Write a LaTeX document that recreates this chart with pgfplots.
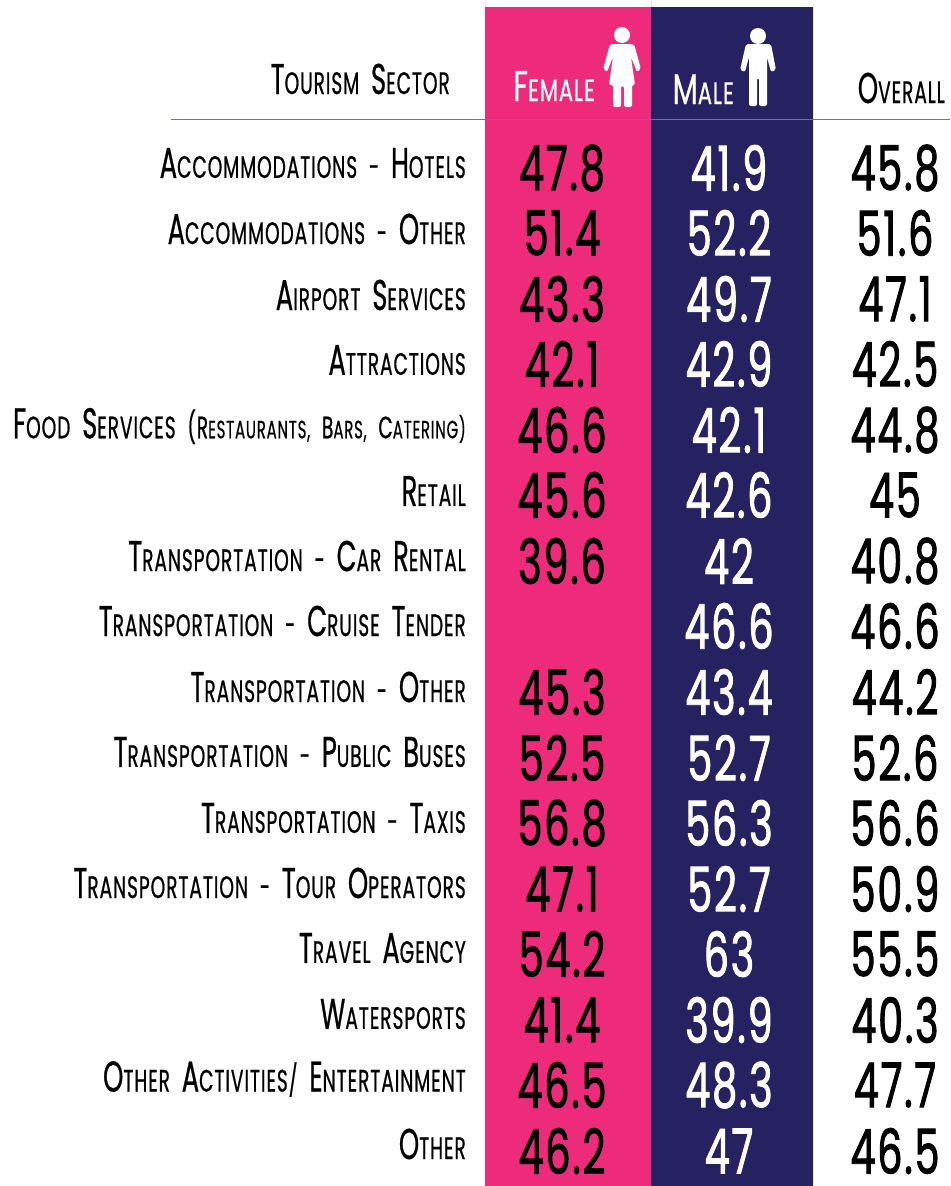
\documentclass[border=0pt]{standalone}
\usepackage{fontspec}
\usepackage{pgfplots}
\usepackage{pgfplotstable}
\pgfplotsset{compat=1.18}
\setmainfont[FakeStretch=0.6,FakeBold=0.6,LetterSpace=3,WordSpace=2]{Poppins}
\newfontfamily\numfont[FakeStretch=0.64,FakeBold=1.4,LetterSpace=3]{Poppins}
\newfontfamily\headfont[FakeStretch=0.68,FakeBold=0.6,LetterSpace=3]{Poppins}

\definecolor{femalepink}{HTML}{EE2A7B}
\definecolor{malenavy}{HTML}{262262}
\definecolor{rulecol}{HTML}{6F6EB8}

% small caps by hand: big initial, rest smaller
\newcommand{\C}[2]{{\fontsize{43}{43}\selectfont #1}{\fontsize{31}{31}\selectfont\MakeUppercase{#2}}}
\newcommand{\D}[2]{{\fontsize{31}{31}\selectfont #1}{\fontsize{25}{25}\selectfont\MakeUppercase{#2}}}
\newcommand{\labelfont}{\fontsize{31}{31}\selectfont}

\pgfplotstableread{
x y v
562 170 47.8
562 235 51.4
562 301 43.3
562 366 42.1
562 432 46.6
562 497 45.6
562 563 39.6
562 694 45.3
562 760 52.5
562 825 56.8
562 891 47.1
562 956 54.2
562 1022 41.4
562 1087 46.5
562 1153 46.2
}\femaletab
\pgfplotstableread{
x y v
729 170 41.9
729 235 52.2
729 301 49.7
729 366 42.9
729 432 42.1
729 497 42.6
729 563 42
729 628 46.6
729 694 43.4
729 760 52.7
729 825 56.3
729 891 52.7
729 956 63
729 1022 39.9
729 1087 48.3
729 1153 47
}\maletab
\pgfplotstableread{
x y v
895 170 45.8
895 235 51.6
895 301 47.1
895 366 42.5
895 432 44.8
895 497 45
895 563 40.8
895 628 46.6
895 694 44.2
895 760 52.6
895 825 56.6
895 891 50.9
895 956 55.5
895 1022 40.3
895 1087 47.7
895 1153 46.5
}\overalltab

\begin{document}
\begin{tikzpicture}
\begin{axis}[
    scale only axis,
    width=950pt, height=1186pt,
    xmin=0, xmax=950, ymin=0, ymax=1186,
    y dir=reverse,
    axis line style={draw=none},
    tick style={draw=none},
    xtick=\empty,
    ytick={165,231,297,362,428,493,558,623,689,754,820,885,950,1016,1081,1146},
    yticklabels={
        {\C{A}{ccommodations} - \C{H}{otels}},
        {\C{A}{ccommodations} - \C{O}{ther}},
        {\C{A}{irport} \C{S}{ervices}},
        {\C{A}{ttractions}},
        {\C{F}{ood} \C{S}{ervices} \D{(R}{estaurants,} \D{B}{ars,} \D{C}{atering)}},
        {\C{R}{etail}},
        {\C{T}{ransportation} - \C{C}{ar} \C{R}{ental}},
        {\C{T}{ransportation} - \C{C}{ruise} \C{T}{ender}},
        {\C{T}{ransportation} - \C{O}{ther}},
        {\C{T}{ransportation} - \C{P}{ublic} \C{B}{uses}},
        {\C{T}{ransportation} - \C{T}{axis}},
        {\C{T}{ransportation} - \C{T}{our} \C{O}{perators}},
        {\C{T}{ravel} \C{A}{gency}},
        {\C{W}{atersports}},
        {\C{O}{ther} \C{A}{ctivities/} \C{E}{ntertainment}},
        {\C{O}{ther}}
    },
    y tick label style={anchor=east, xshift=466pt, yshift=2pt, inner sep=0pt, font=\labelfont},
    clip=true,
    nodes near coords,
    point meta=explicit symbolic,
    nodes near coords style={anchor=center, inner sep=0pt, yshift=2pt, font=\numfont\fontsize{62}{62}\selectfont},
]
\addplot[fill=femalepink, draw=none, nodes near coords=] coordinates {(485,7) (651,7) (651,1186) (485,1186)} \closedcycle;
\addplot[fill=malenavy, draw=none, nodes near coords=] coordinates {(651,7) (813,7) (813,1186) (651,1186)} \closedcycle;
\addplot[draw=rulecol, line width=1pt, nodes near coords=] coordinates {(171,119) (950,119)};

\addplot[draw=none, mark=none, nodes near coords style={text=black}] table[x=x, y=y, meta=v] {\femaletab};
\addplot[draw=none, mark=none, nodes near coords style={text=white}] table[x=x, y=y, meta=v] {\maletab};
\addplot[draw=none, mark=none, nodes near coords style={text=black}] table[x=x, y=y, meta=v] {\overalltab};

% header
\node[anchor=base east, inner sep=0pt, font=\labelfont] at (axis cs:450,94) {\C{T}{ourism} \C{S}{ector}};
\node[anchor=base east, inner sep=0pt, font=\headfont\labelfont, text=white] at (axis cs:595,101) {\C{F}{emale}};
\node[anchor=base east, inner sep=0pt, font=\headfont\labelfont, text=white] at (axis cs:734,104) {\C{M}{ale}};
\node[anchor=base east, inner sep=0pt, font=\labelfont] at (axis cs:945,103) {\C{O}{verall}};

% figures
\fill[white] (axis cs:622,35) circle[radius=8pt];
\fill[white, rounded corners=2pt] (axis cs:610,44) -- (axis cs:634,44) -- (axis cs:641,69) -- (axis cs:637,72) -- (axis cs:631,57) -- (axis cs:635,85) -- (axis cs:632,85) -- (axis cs:632,107) -- (axis cs:624,107) -- (axis cs:624,86) -- (axis cs:621,86) -- (axis cs:621,107) -- (axis cs:613,107) -- (axis cs:613,85) -- (axis cs:609,85) -- (axis cs:613,57) -- (axis cs:607,72) -- (axis cs:603,69) -- cycle;
\fill[white] (axis cs:758,36) circle[radius=8pt];
\fill[white, rounded corners=2pt] (axis cs:746,44) -- (axis cs:771,44) -- (axis cs:776,70) -- (axis cs:771,72) -- (axis cs:767,57) -- (axis cs:767,106) -- (axis cs:759,106) -- (axis cs:759,78) -- (axis cs:757,78) -- (axis cs:757,106) -- (axis cs:749,106) -- (axis cs:749,57) -- (axis cs:745,72) -- (axis cs:740,70) -- cycle;
\end{axis}
\end{tikzpicture}
\end{document}
